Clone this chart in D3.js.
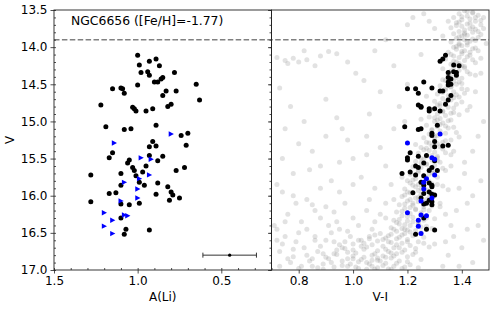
<!DOCTYPE html>
<html>
<head>
<meta charset="utf-8">
<script src="https://cdn.jsdelivr.net/npm/d3@7"></script>
<style>
    body { margin: 0; background: #fff; }
    text { font-family: "DejaVu Sans", sans-serif; }
</style>
</head>
<body>
<script>
// stars with a Li measurement (black)
const blackV = [14.11,14.16,14.19,14.24,14.25,14.33,14.34,14.34,14.38,14.41,
    14.43,14.47,14.47,14.50,14.51,14.55,14.56,14.56,14.59,14.59,
    14.62,14.65,14.71,14.77,14.78,14.80,14.81,14.83,14.83,14.86,
    14.86,15.05,15.07,15.10,15.11,15.16,15.19,15.27,15.32,15.33,
    15.34,15.42,15.46,15.47,15.49,15.52,15.53,15.56,15.60,15.62,
    15.62,15.66,15.66,15.68,15.70,15.72,15.73,15.82,15.83,15.86,
    15.86,15.88,15.95,15.96,15.97,15.98,15.99,16.03,16.06,16.08,
    16.10,16.11,16.12,16.30,16.45,16.46,16.52];
const blackALi = [1.00,0.89,0.93,0.99,0.87,0.94,0.98,0.78,0.93,0.85,
    0.86,0.90,0.88,0.65,1.00,1.10,1.15,1.09,0.83,0.77,
    1.08,0.85,0.63,0.80,1.22,0.82,1.03,1.02,0.91,0.95,
    1.01,0.89,1.19,1.04,1.08,0.70,0.74,0.91,0.71,0.89,
    0.93,1.15,0.93,0.85,1.17,1.05,0.88,1.06,0.95,1.03,
    0.72,0.77,1.02,0.97,1.10,1.28,1.01,0.99,0.88,0.96,
    1.10,0.82,0.80,1.13,1.17,0.89,0.79,0.75,0.81,1.28,
    0.99,1.10,1.05,1.10,1.07,0.93,1.08];
const blackVI = [1.34,1.33,1.32,1.37,1.39,1.37,1.35,1.38,1.38,1.35,
    1.36,1.35,1.26,1.36,1.35,1.29,1.20,1.23,1.32,1.33,
    1.24,1.36,1.35,1.34,1.24,1.25,1.25,1.28,1.30,1.32,
    1.28,1.31,1.19,1.25,1.24,1.29,1.29,1.30,1.35,1.33,
    1.30,1.21,1.27,1.24,1.20,1.20,1.30,1.26,1.23,1.29,
    1.24,1.31,1.28,1.21,1.18,1.23,1.26,1.25,1.28,1.26,
    1.29,1.29,1.28,1.22,1.26,1.29,1.30,1.25,1.28,1.29,
    1.27,1.26,1.29,1.26,1.27,1.30,1.23];

// upper limits (blue)
const limV = [15.17,15.29,15.49,15.51,15.72,15.77,15.82,15.91,16.07,16.03,16.23,16.33,16.26,16.27,16.41,16.51];
const limALi = [0.80,1.14,0.98,0.92,0.93,0.99,1.08,1.00,1.10,1.00,1.20,1.15,1.08,1.06,1.20,1.15];
const limVI = [1.32,1.20,1.29,1.30,1.30,1.27,1.26,1.26,1.25,1.29,1.20,1.24,1.25,1.27,1.24,1.25];

// cluster photometry (grey) [V-I, V], giant branch
const cmdRGB = [[1.41,13.51],[1.44,13.53],[1.39,13.55],[1.46,13.57],[1.42,13.58],[1.37,13.60],[1.43,13.62],
    [1.40,13.63],[1.45,13.65],[1.38,13.67],[1.42,13.69],[1.47,13.70],[1.40,13.72],[1.36,13.74],[1.43,13.75],
    [1.41,13.77],[1.39,13.79],[1.44,13.80],[1.37,13.82],[1.42,13.84],[1.40,13.85],[1.46,13.87],[1.38,13.88],
    [1.41,13.90],[1.43,13.92],[1.36,13.93],[1.39,13.95],[1.42,13.97],[1.40,13.98],[1.37,14.00],[1.44,14.02],
    [1.38,14.03],[1.41,14.05],[1.35,14.07],[1.40,14.09],[1.43,14.11],[1.37,14.12],[1.39,14.14],[1.34,14.16],
    [1.41,14.18],[1.38,14.20],[1.45,14.21],[1.36,14.23],[1.40,14.25],[1.37,14.27],[1.33,14.29],[1.39,14.31],
    [1.42,14.33],[1.35,14.35],[1.38,14.37],[1.36,14.40],[1.40,14.42],[1.33,14.44],[1.37,14.46],[1.35,14.48],
    [1.48,13.60],[1.46,13.79],[1.49,13.95],[1.47,14.15],[1.35,13.65],[1.33,13.85],[1.45,14.38],
    [1.38,14.50],[1.32,14.52],[1.36,14.54],[1.40,14.56],[1.34,14.58],[1.37,14.60],[1.31,14.63],[1.35,14.65],
    [1.39,14.67],[1.33,14.69],[1.36,14.71],[1.30,14.73],[1.34,14.75],[1.38,14.77],[1.32,14.79],[1.35,14.81],
    [1.29,14.84],[1.33,14.86],[1.37,14.88],[1.31,14.90],[1.34,14.92],[1.28,14.94],[1.32,14.96],[1.36,14.98],
    [1.30,15.00],[1.33,15.02],[1.27,15.05],[1.31,15.07],[1.35,15.09],[1.29,15.11],[1.32,15.13],[1.38,15.15],
    [1.28,15.17],[1.31,15.19],[1.26,15.22],[1.30,15.24],[1.34,15.26],[1.27,15.28],[1.31,15.30],[1.29,15.33],
    [1.25,15.35],[1.33,15.37],[1.28,15.39],[1.30,15.41],[1.24,15.43],[1.36,15.45],[1.27,15.47],[1.31,15.49],
    [1.41,14.62],[1.27,14.66],[1.42,14.85],[1.25,14.97],[1.39,15.21],[1.23,15.31],[1.37,15.40],
    [1.26,15.51],[1.29,15.52],[1.23,15.54],[1.32,15.55],[1.27,15.57],[1.30,15.59],[1.22,15.61],[1.25,15.62],
    [1.28,15.64],[1.34,15.66],[1.24,15.68],[1.29,15.69],[1.21,15.71],[1.26,15.73],[1.31,15.75],[1.23,15.77],
    [1.27,15.78],[1.20,15.80],[1.25,15.82],[1.29,15.84],[1.22,15.86],[1.33,15.87],[1.26,15.89],[1.19,15.91],
    [1.24,15.93],[1.28,15.94],[1.21,15.96],[1.25,15.98],[1.30,16.00],[1.18,16.01],[1.23,16.03],[1.27,16.05],
    [1.20,16.07],[1.24,16.08],[1.32,16.10],[1.17,16.12],[1.22,16.13],[1.26,16.15],[1.19,16.17],[1.23,16.19],
    [1.28,16.20],[1.16,16.22],[1.21,16.24],[1.25,16.26],[1.18,16.27],[1.22,16.29],[1.30,16.31],[1.15,16.33],
    [1.20,16.34],[1.24,16.36],[1.17,16.38],[1.21,16.40],[1.27,16.41],[1.14,16.43],[1.19,16.45],[1.23,16.47],
    [1.16,16.48],[1.36,15.60],[1.18,15.75],[1.35,15.92],[1.15,16.05],[1.34,16.25],[1.12,16.30],[1.29,16.44],
    [1.28,15.71],[1.24,15.85],[1.21,16.16],[1.26,16.33],[1.20,16.46],
    [1.44,13.54],[1.40,13.59],[1.47,13.64],[1.43,13.68],[1.38,13.71],[1.45,13.76],[1.41,13.81],[1.47,13.83],
    [1.39,13.86],[1.44,13.89],[1.42,13.94],[1.38,13.99],[1.45,14.01],[1.40,14.06],[1.36,14.10],[1.42,14.13],
    [1.44,14.17],[1.39,14.22],[1.41,14.28],[1.36,14.32],[1.43,14.36],[1.38,14.41],[1.34,14.45],[1.40,14.49],
    [1.36,14.53],[1.42,14.57],[1.33,14.61],[1.38,14.64],[1.35,14.70],[1.40,14.74],[1.31,14.78],[1.37,14.82],
    [1.33,14.87],[1.39,14.91],[1.30,14.95],[1.35,14.99],[1.32,15.04],[1.37,15.08],[1.29,15.12],[1.34,15.16],
    [1.30,15.20],[1.36,15.25],[1.28,15.29],[1.32,15.34],[1.26,15.38],[1.34,15.42],[1.29,15.46],[1.25,15.50],
    [1.31,15.53],[1.27,15.58],[1.33,15.63],[1.24,15.66],[1.30,15.70],[1.26,15.74],[1.22,15.79],[1.28,15.81],
    [1.31,15.85],[1.23,15.88],[1.27,15.92],[1.20,15.95],[1.29,15.97],[1.24,16.02],[1.21,16.05],[1.26,16.09],
    [1.19,16.11],[1.29,16.14],[1.23,16.18],[1.18,16.21],[1.25,16.23],[1.20,16.28],[1.27,16.30],[1.17,16.32],
    [1.22,16.35],[1.19,16.39],[1.25,16.42],[1.15,16.45],[1.21,16.49],[1.18,16.44],[1.24,16.39],[1.16,16.36],
    [1.26,16.19],[1.22,16.10],[1.28,16.02],[1.19,15.99],[1.25,15.90],[1.21,15.83],[1.27,15.76],[1.23,15.72],
    [1.29,15.65],[1.25,15.56],[1.31,15.47],[1.27,15.36],[1.33,15.28],[1.29,15.18],[1.34,15.06],[1.31,14.98],
    [1.36,14.89],[1.32,14.76],[1.37,14.68],[1.34,14.56],[1.39,14.47],[1.35,14.38],[1.41,14.26],[1.37,14.19],
    [1.43,14.07],[1.39,13.97],[1.45,13.91],[1.41,13.83],[1.44,13.73],[1.39,13.66],[1.45,13.60],[1.42,13.52]];
// subgiant and turn-off region
const cmdSGB = [[1.10,16.51],[1.14,16.52],[1.18,16.53],[1.22,16.54],[1.06,16.55],[1.26,16.56],[1.12,16.57],
    [1.16,16.58],[1.20,16.59],[1.03,16.60],[1.09,16.61],[1.24,16.62],[1.14,16.63],[1.18,16.64],[1.00,16.65],
    [1.07,16.66],[1.21,16.67],[1.11,16.68],[1.28,16.69],[1.15,16.70],[0.97,16.71],[1.04,16.72],[1.19,16.73],
    [1.09,16.74],[1.13,16.75],[1.23,16.76],[1.01,16.77],[1.16,16.78],[0.94,16.79],[1.07,16.80],[1.11,16.81],
    [1.20,16.82],[1.04,16.83],[1.14,16.84],[0.98,16.85],[1.25,16.86],[1.09,16.87],[1.17,16.88],[1.02,16.89],
    [0.92,16.90],[1.12,16.91],[1.06,16.92],[1.21,16.93],[0.96,16.94],[1.15,16.95],[1.01,16.96],[1.09,16.97],
    [1.18,16.98],[0.89,16.99],[1.05,16.99],[1.13,16.985],[1.08,16.53],[1.16,16.66],[1.05,16.69],[1.22,16.79],
    [1.12,16.72],[1.10,16.88],[1.19,16.96],[0.99,16.92],[1.07,16.95],[1.13,16.62],[1.03,16.86],[1.15,16.81],
    [0.95,16.66],[1.00,16.73],[1.04,16.64],[1.08,16.78],[1.11,16.59],[1.14,16.77],[1.17,16.70],[1.20,16.62],
    [1.23,16.71],[1.13,16.54],[1.17,16.56],[1.09,16.84],[1.05,16.90],[1.00,16.81],[0.96,16.88],[0.93,16.96],
    [1.11,16.94],[1.16,16.91],[1.20,16.89],[1.24,16.97],[1.02,16.98],[1.07,16.87],[1.12,16.83],[1.18,16.76],
    [1.26,16.64],[1.03,16.68],[0.98,16.76],[1.14,16.99],[1.08,16.99],[0.87,16.97],[0.90,16.83],[0.94,16.73],
    [1.06,16.58],[1.19,16.51],[1.25,16.50]];
// scattered field stars
const cmdField = [[0.72,14.14],[0.75,14.18],[0.78,14.15],[0.80,14.20],[0.83,14.17],[0.76,14.22],[0.91,14.06],
    [0.94,14.09],[0.88,14.12],[1.01,14.35],[1.04,14.45],[0.77,14.80],[0.94,14.95],[1.10,14.60],[1.15,14.25],
    [1.05,15.20],[0.85,15.40],[1.00,15.50],[0.78,15.70],[0.92,15.80],[1.08,15.90],[0.74,15.95],[0.83,16.05],
    [0.97,16.10],[1.05,16.20],[0.76,16.25],[0.88,16.30],[0.94,16.35],[1.02,16.40],[0.72,16.45],[0.80,16.50],
    [0.86,16.55],[0.90,16.60],[0.97,16.62],[0.74,16.65],[0.82,16.70],[0.87,16.75],[0.93,16.78],[0.78,16.82],
    [0.84,16.88],[0.89,16.92],[0.73,16.95],[0.80,16.98],[0.86,16.60],[0.95,16.45],[1.08,16.35],[1.12,15.60],
    [1.15,15.10],[1.20,14.50],[1.25,14.10],[1.22,13.60],[1.28,13.65],[1.20,13.70],[1.45,14.60],[1.48,15.00],
    [1.44,15.40],[1.47,15.80],[1.42,16.10],[1.46,16.40],[1.40,16.70],[1.44,16.90],[1.38,16.20],[1.35,16.80],
    [1.41,15.55],[1.39,15.90],[1.37,16.55],[1.33,16.95],[1.30,16.65],[0.71,16.40],[0.75,16.55],[0.79,16.62],
    [0.83,16.80],[0.88,16.68],[0.91,16.85],[0.85,16.95],[0.77,16.90],[0.81,16.35],[0.73,16.75],[0.96,16.70],
    [0.99,16.55],[0.92,16.50],[1.00,16.85],[0.98,16.95],[0.86,16.20],[0.90,16.15],[0.79,16.10],[0.95,15.95],
    [0.88,15.60],[0.80,15.30],[0.75,15.10],[0.98,15.25],[1.03,15.75],[1.06,16.05],[1.10,16.25],[1.07,16.45],
    [1.02,16.60],[0.82,14.05],[0.86,14.25],[0.98,14.20],[1.08,14.05],[1.12,13.90],[1.26,13.55],[1.30,13.75],
    [1.17,14.80],[1.06,14.90],[0.90,14.70],[0.73,14.55],[0.82,15.00],[0.96,15.10],[1.10,15.35],[1.19,15.00],
    [0.90,15.20],[0.74,15.50],[0.84,15.65],[0.95,15.55],[1.05,15.45],[1.14,15.85],[1.00,15.85],[0.88,15.90],
    [0.72,15.85],[0.78,16.00],[0.85,16.12],[0.93,16.22],[1.00,16.30],[1.12,16.10],[0.75,16.35],[0.83,16.45],
    [0.91,16.40],[0.98,16.48],[0.72,16.60],[0.78,16.72],[0.85,16.85],[0.81,16.95],[0.76,16.85],[0.89,16.78],
    [0.93,16.62],[1.48,13.75],[1.46,14.05],[1.47,14.35],[1.43,14.80],[1.46,15.20],[1.41,15.70],[1.44,16.00],
    [1.48,16.60],[1.42,16.45],[1.36,16.40],[1.34,16.62],[1.39,16.95],[1.32,16.15]];

// typical error
const errALi = 0.45, errV = 16.8, errSize = 0.16;

const title = "NGC6656 ([Fe/H]=-1.77)";
const vLimit = 13.9;
const vTicks = [13.5, 14.0, 14.5, 15.0, 15.5, 16.0, 16.5, 17.0];
const liTicks = [1.5, 1.0, 0.5];
const viTicks = [0.8, 1.0, 1.2, 1.4];

const largeur = 498, hauteur = 309;
const top0 = 10, bottom0 = 270;

const svgSpace = d3.select("body").append("svg")
    .attr("width", largeur)
    .attr("height", hauteur);

const y = d3.scaleLinear().domain([13.5, 17]).range([top0, bottom0]);
const xLi = d3.scaleLinear().domain([1.5, 0.2]).range([54, 271.5]);
const xVI = d3.scaleLinear().domain([0.7, 1.5]).range([271.5, 489]);

const minorV = d3.range(135, 171).map(d => d / 10);
const minorLi = d3.range(2, 16).map(d => d / 10);

svgSpace.append("clipPath").attr("id", "clipR")
    .append("rect")
    .attr("x", 271.5).attr("y", top0)
    .attr("width", 489 - 271.5).attr("height", bottom0 - top0);

// grey photometry
const cmdStars = cmdRGB.concat(cmdSGB, cmdField);
svgSpace.append("g")
    .attr("clip-path", "url(#clipR)")
    .selectAll("circle")
    .data(cmdStars)
    .enter()
    .append("circle")
    .attr("cx", d => xVI(d[0]))
    .attr("cy", d => y(d[1]))
    .attr("r", 2.5)
    .attr("fill", "#8a8a8a")
    .attr("fill-opacity", 0.25);

// dashed line
svgSpace.append("line")
    .attr("x1", 54).attr("x2", 489)
    .attr("y1", y(vLimit)).attr("y2", y(vLimit))
    .attr("stroke", "#808080")
    .attr("stroke-width", 1.5)
    .attr("stroke-dasharray", "5.5,2.4");

// left panel points
svgSpace.append("g")
    .selectAll("circle")
    .data(blackV)
    .enter()
    .append("circle")
    .attr("cx", (d, i) => xLi(blackALi[i]))
    .attr("cy", d => y(d))
    .attr("r", 2.5)
    .attr("fill", "black");

svgSpace.append("g")
    .selectAll("path")
    .data(limV)
    .enter()
    .append("path")
    .attr("d", "M-2.4,-2.7L2.8,0L-2.4,2.7Z")
    .attr("transform", (d, i) => "translate(" + xLi(limALi[i]) + "," + y(d) + ")")
    .attr("fill", "blue");

// error bar
const eb = svgSpace.append("g").attr("stroke", "#333").attr("stroke-width", 1);
eb.append("line")
    .attr("x1", xLi(errALi + errSize)).attr("x2", xLi(errALi - errSize))
    .attr("y1", y(errV)).attr("y2", y(errV));
[errALi + errSize, errALi - errSize].forEach(v => {
    eb.append("line")
        .attr("x1", xLi(v)).attr("x2", xLi(v))
        .attr("y1", y(errV) - 2.5).attr("y2", y(errV) + 2.5);
});
svgSpace.append("circle")
    .attr("cx", xLi(errALi)).attr("cy", y(errV)).attr("r", 1.6).attr("fill", "black");

// right panel points
svgSpace.append("g")
    .selectAll("circle")
    .data(blackV)
    .enter()
    .append("circle")
    .attr("cx", (d, i) => xVI(blackVI[i]))
    .attr("cy", d => y(d))
    .attr("r", 2.5)
    .attr("fill", "black");

svgSpace.append("g")
    .selectAll("circle")
    .data(limV)
    .enter()
    .append("circle")
    .attr("cx", (d, i) => xVI(limVI[i]))
    .attr("cy", d => y(d))
    .attr("r", 2.5)
    .attr("fill", "blue");

// axes
function addAxis(axis, tx, ty, labels) {
    const g = svgSpace.append("g")
        .attr("transform", "translate(" + tx + "," + ty + ")")
        .call(axis)
        .attr("font-family", "DejaVu Sans, sans-serif")
        .attr("font-size", 12);
    g.select(".domain").remove();
    g.selectAll("line").attr("stroke", "#222").attr("stroke-width", 0.8);
    g.selectAll("text").attr("fill", "black");
    if (!labels) g.selectAll("text").remove();
    return g;
}

const fmt = d3.format(".1f");
addAxis(d3.axisLeft(y).tickValues(vTicks).tickFormat(fmt).tickSize(3.5).tickPadding(3), 54, 0, true);
addAxis(d3.axisLeft(y).tickValues(minorV).tickSize(-2), 54, 0, false);
addAxis(d3.axisLeft(y).tickValues(vTicks).tickSize(3.5), 271.5, 0, false);
addAxis(d3.axisLeft(y).tickValues(minorV).tickSize(2), 271.5, 0, false);
addAxis(d3.axisBottom(xLi).tickValues(liTicks).tickFormat(fmt).tickSize(3.5).tickPadding(3), 0, bottom0, true);
addAxis(d3.axisBottom(xLi).tickValues(minorLi).tickSize(-2), 0, bottom0, false);
addAxis(d3.axisBottom(xVI).tickValues(viTicks).tickFormat(fmt).tickSize(3.5).tickPadding(3), 0, bottom0, true);

// frames
[[54, 271.5], [271.5, 489]].forEach(p => {
    svgSpace.append("rect")
        .attr("x", p[0]).attr("y", top0)
        .attr("width", p[1] - p[0]).attr("height", bottom0 - top0)
        .attr("fill", "none")
        .attr("stroke", "#222")
        .attr("stroke-width", 0.9);
});

// labels
svgSpace.append("text")
    .text(title)
    .attr("x", 71).attr("y", 25)
    .style("font-size", "12.4px");

svgSpace.append("text")
    .text("A(Li)")
    .attr("x", (54 + 271.5) / 2).attr("y", 301)
    .style("text-anchor", "middle")
    .style("font-size", "12px");

svgSpace.append("text")
    .text("V-I")
    .attr("x", (271.5 + 489) / 2).attr("y", 301)
    .style("text-anchor", "middle")
    .style("font-size", "12px");

svgSpace.append("text")
    .text("V")
    .attr("transform", "translate(13.5," + (top0 + bottom0) / 2 + ") rotate(-90)")
    .style("text-anchor", "middle")
    .style("font-size", "12px");
</script>
</body>
</html>
